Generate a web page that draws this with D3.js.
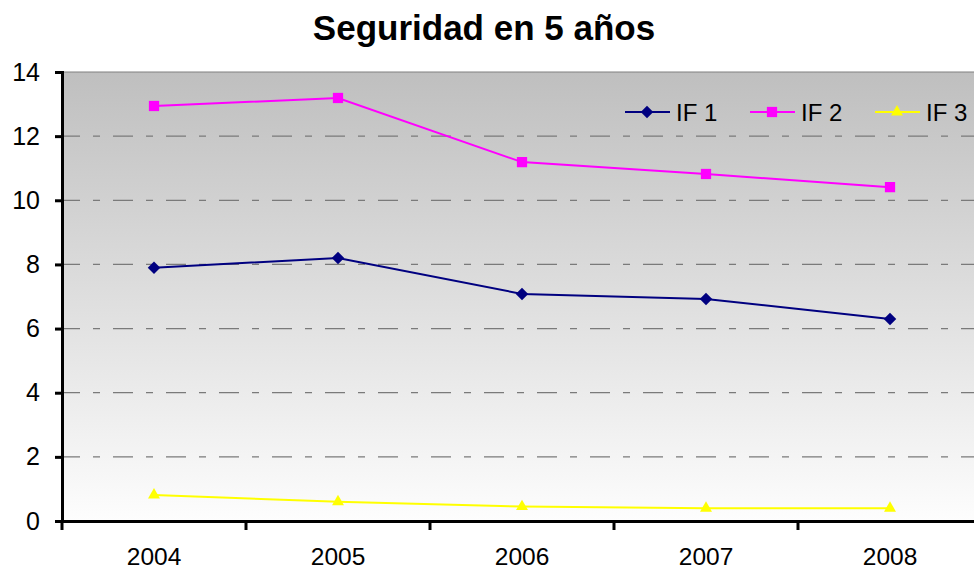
<!DOCTYPE html>
<html>
<head>
<meta charset="utf-8">
<script src="https://cdn.jsdelivr.net/npm/d3@7"></script>
<style>
  body { margin: 0; background: #fff; }
  text { font-family: "Liberation Sans", Arial, sans-serif; }
</style>
</head>
<body>
<script>
var years = ["2004", "2005", "2006", "2007", "2008"];
var if1 = [7.9, 8.2, 7.08, 6.92, 6.3];
var if2 = [12.94, 13.19, 11.19, 10.82, 10.41];
var if3 = [0.81, 0.6, 0.45, 0.4, 0.4];
var yTicks = [0, 2, 4, 6, 8, 10, 12, 14];
var seriesNames = ["IF 1", "IF 2", "IF 3"];

var w = 974, h = 571;
var plotLeft = 62, plotTop = 72, plotBottom = 521, plotRight = 982;

var svg = d3.select("body").append("svg")
  .attr("width", w).attr("height", h);

var grad = svg.append("defs").append("linearGradient")
  .attr("id", "bg").attr("x1", 0).attr("y1", 0).attr("x2", 0).attr("y2", 1);
grad.append("stop").attr("offset", "0%").attr("stop-color", "#bfbfbf");
grad.append("stop").attr("offset", "100%").attr("stop-color", "#fdfdfd");

var x = d3.scaleBand().domain(years).range([plotLeft, plotRight]);
var y = d3.scaleLinear().domain([0, 14]).range([plotBottom, plotTop]);

// plot area
svg.append("rect")
  .attr("x", plotLeft).attr("y", plotTop)
  .attr("width", plotRight - plotLeft).attr("height", plotBottom - plotTop)
  .attr("fill", "url(#bg)")
  .attr("stroke", "#808080").attr("stroke-width", 1);

// dash-dot grid
svg.selectAll("line.grid")
  .data(yTicks.filter(function(d) { return d > 0 && d < 14; }))
  .enter().append("line")
  .attr("class", "grid")
  .attr("x1", plotLeft).attr("x2", plotRight)
  .attr("y1", function(d) { return y(d); })
  .attr("y2", function(d) { return y(d); })
  .attr("stroke", "#7a7a7a")
  .attr("stroke-width", 1.2)
  .attr("stroke-dasharray", "20,13,7,13")
  .attr("stroke-dashoffset", 2);

// axes
var yAxis = svg.append("g")
  .attr("transform", "translate(" + plotLeft + ",0)")
  .call(d3.axisLeft(y).tickValues(yTicks).tickSize(7).tickPadding(15));
var xAxis = svg.append("g")
  .attr("transform", "translate(0," + plotBottom + ")")
  .call(d3.axisBottom(x).tickSize(0).tickPadding(27));

[yAxis, xAxis].forEach(function(g) {
  g.select(".domain").attr("stroke", "#000").attr("stroke-width", 3);
  g.selectAll(".tick line").attr("stroke", "#000").attr("stroke-width", 3);
  g.selectAll("text").attr("font-size", "25px").attr("fill", "#000")
    .style("font-family", "'Liberation Sans', Arial, sans-serif");
});
xAxis.selectAll("text").attr("font-size", "24.5px");

// category boundary ticks on x axis
svg.selectAll("line.xtick")
  .data(years)
  .enter().append("line")
  .attr("class", "xtick")
  .attr("x1", function(d) { return x(d); })
  .attr("x2", function(d) { return x(d); })
  .attr("y1", plotBottom).attr("y2", plotBottom + 9)
  .attr("stroke", "#000").attr("stroke-width", 3);

var series = [
  { name: seriesNames[0], values: if1, color: "#000080", shape: d3.symbolSquare, size: 78, rot: 45 },
  { name: seriesNames[1], values: if2, color: "#ff00ff", shape: d3.symbolSquare, size: 105, rot: 0 },
  { name: seriesNames[2], values: if3, color: "#ffff00", shape: d3.symbolTriangle, size: 62, rot: 0 }
];

var line = d3.line()
  .x(function(d, i) { return x(years[i]) + x.bandwidth() / 2; })
  .y(function(d) { return y(d); });

series.forEach(function(s) {
  svg.append("path")
    .datum(s.values)
    .attr("d", line)
    .attr("fill", "none")
    .attr("stroke", s.color)
    .attr("stroke-width", 2);

  svg.selectAll(null)
    .data(s.values)
    .enter().append("path")
    .attr("d", d3.symbol().type(s.shape).size(s.size))
    .attr("transform", function(d, i) {
      return "translate(" + (x(years[i]) + x.bandwidth() / 2) + "," + y(d) + ") rotate(" + s.rot + ")";
    })
    .attr("fill", s.color);
});

// legend
var legend = svg.selectAll("g.legend")
  .data(series)
  .enter().append("g")
  .attr("class", "legend")
  .attr("transform", function(d, i) { return "translate(" + (625 + i * 125) + ",112)"; });
legend.append("line")
  .attr("x1", 0).attr("x2", 45)
  .attr("stroke", function(d) { return d.color; })
  .attr("stroke-width", 2);
legend.append("path")
  .attr("d", function(d) { return d3.symbol().type(d.shape).size(d.size)(); })
  .attr("transform", function(d) { return "translate(22,0) rotate(" + d.rot + ")"; })
  .attr("fill", function(d) { return d.color; });
legend.append("text")
  .attr("x", 51).attr("y", 9)
  .attr("font-size", "24px")
  .text(function(d) { return d.name; });

// title
svg.append("text")
  .attr("x", 484).attr("y", 40)
  .attr("text-anchor", "middle")
  .attr("font-size", "35px")
  .attr("font-weight", "bold")
  .text("Seguridad en 5 años");
</script>
</body>
</html>
